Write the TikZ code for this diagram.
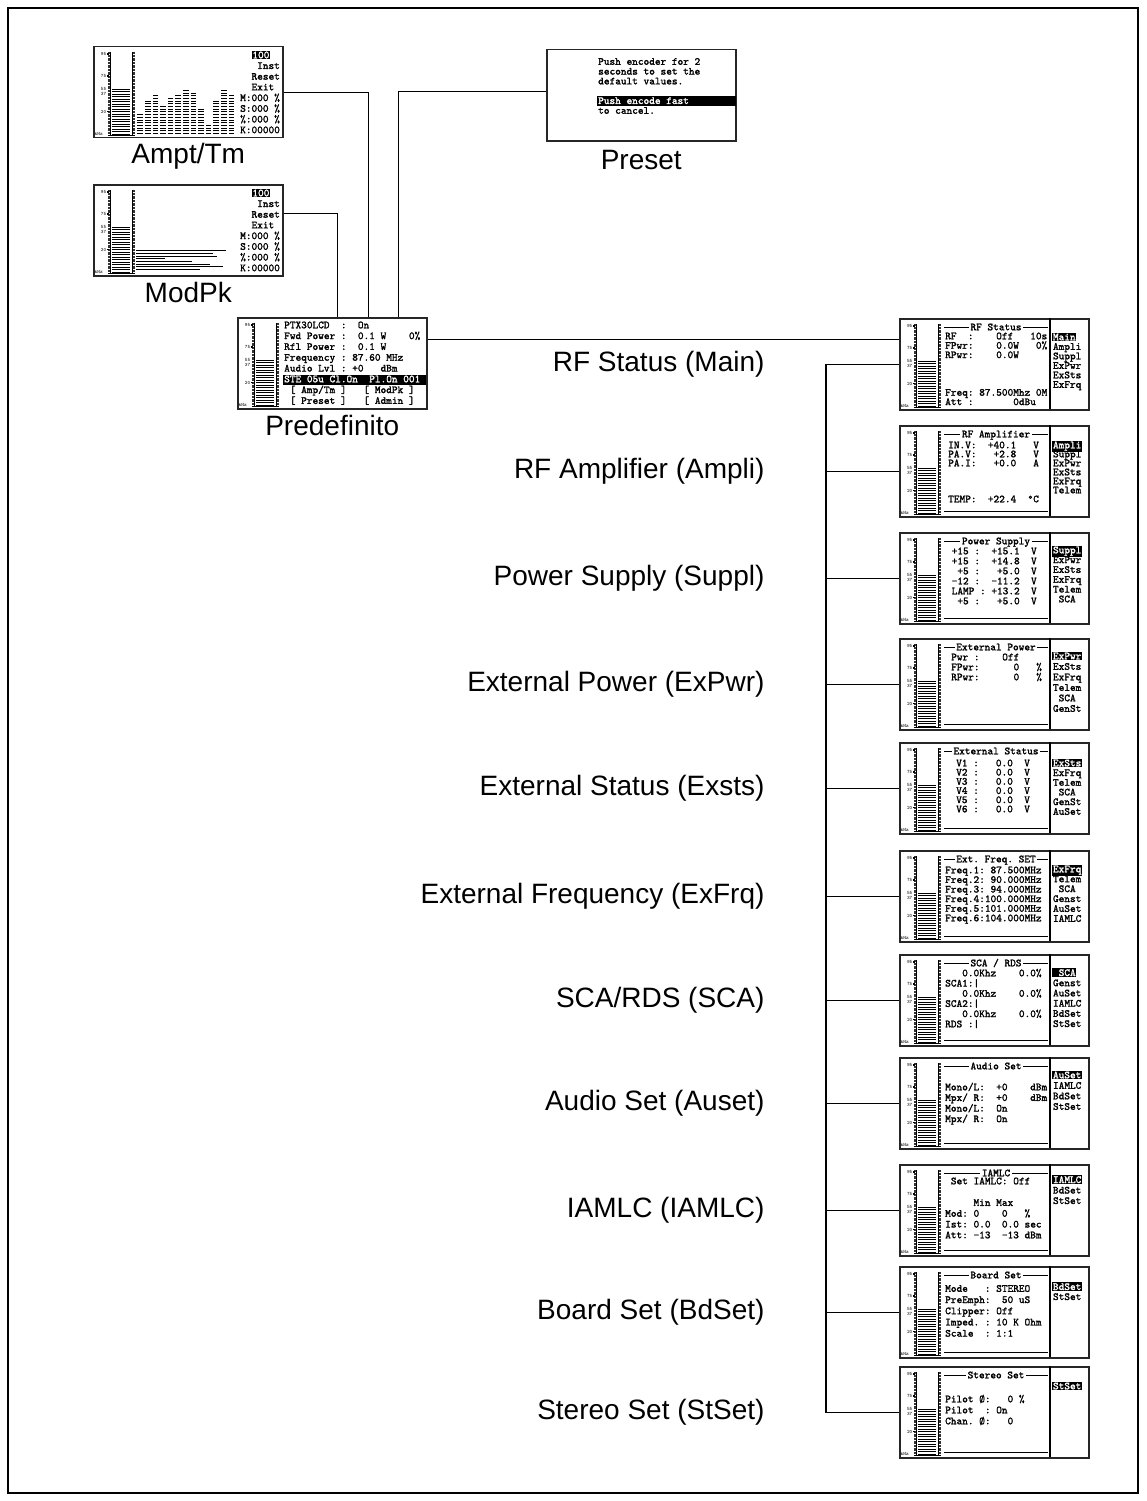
\documentclass[tikz,border=0pt]{standalone}
\usepackage{fontspec}
\setmainfont{Liberation Sans}
\newfontfamily\scrtt{lmmono10-regular}[Extension=.otf,FakeBold=1.6]
\usetikzlibrary{positioning,calc}

\newcommand\scrfont{\scrtt\fontsize{10.8}{10.8}\selectfont}
\newcommand\scalefont{\ttfamily\fontsize{5}{5}\selectfont}

\tikzset{
  screen/.style={draw=black!85,line width=1.5pt,minimum width=189pt,minimum height=91pt,
    inner sep=0pt,anchor=north west},
  row/.style={font=\scrfont,anchor=base west,inner sep=0pt},
  hl/.style={fill=black,text=white,inner sep=0.8pt},
  caption/.style={font=\fontsize{28}{30}\selectfont,anchor=base},
  lbl/.style={font=\fontsize{28}{30}\selectfont,anchor=east},
  wire/.style={line width=1.2pt},
  ruler/.style={line width=2.4pt,dash pattern=on 0.6pt off 0.8pt,black!80}
}

% level meter on the left of every screen
\newcommand\bargraph{%
  \foreach \v/\yy in {95/8,75/30,55/42.5,37/47.5,20/65.5}
    \node[font=\scalefont,anchor=east,inner sep=0pt] at (13.5,\yy) {\v};
  \node[font=\scalefont,anchor=west,inner sep=0pt] at (1.5,88) {kHz};
  \draw[ruler] (16,6) -- (16,89);
  \draw[ruler] (40.5,6) -- (40.5,89);
  \draw[line width=0.5pt] (17.4,6) -- (17.4,89);
  \draw[line width=0.5pt] (39.1,6) -- (39.1,89);
  \foreach \yy in {8,30,65.5} \fill (14.4,\yy-0.8) rectangle (16.4,\yy+0.8);
  \draw[line width=18pt,dash pattern=on 0.9pt off 1.6pt] (28.3,88.5) -- (28.3,42);
  \draw[line width=0.8pt] (15,89) -- (41.5,89);
}
\newcommand\scrrows[4]{%
  \foreach \rowtext [count=\k from 0] in {#4}
    \node[row] at (#1,{#2+#3*\k}) {\rowtext};}
\newcommand\scrtitle[1]{%
  \draw[line width=0.8pt] (45,9) -- (149,9);
  \node[font=\scrfont,fill=white,inner xsep=1.5pt,inner ysep=0pt,anchor=base] at (97,12.3) {#1};}
\newcommand\scrbottom{\draw[line width=0.8pt] (45,86) -- (149,86);}
\newcommand\scrsep{\draw[line width=1.8pt] (151,0) -- (151,91);}
\newcommand\scrmenu[4]{%
  \node[row,hl] at (153,#3) {#1};
  \foreach \rowtext [count=\k] in {#2}
    \node[row] at (153.8,{#3+#4*\k}) {\rowtext};}

\begin{document}
\begin{tikzpicture}[x=1pt,y=-1pt]
\useasboundingbox (0,0) rectangle (1146,1501);
\draw[line width=1.6pt] (8,8) rectangle (1138,1493);

% upper screens
\node[screen] (ampt) at (93,46) {};
\node[screen] (modpk) at (93,184) {};
\node[screen] (preset) at (546,49) {};
\node[screen] (predef) at (237,317) {};
\node[caption] at ([yshift=-25pt]ampt.south) {Ampt/Tm};
\node[caption] at ([yshift=-26pt]modpk.south) {ModPk};
\node[caption] at ([yshift=-28pt]preset.south) {Preset};
\node[caption] at ([yshift=-26pt]predef.south) {Predefinito};

% menu screens
\foreach \n/\yy in {rfs/318,rfa/425,sup/532,expwr/638,exsts/742,exfrq/850,
    sca/954,auset/1057,iamlc/1164,bdset/1266,stset/1366}
  \node[screen] (\n) at (899,\yy) {};
\foreach \n/\txt in {rfs/RF Status (Main),rfa/RF Amplifier (Ampli),sup/Power Supply (Suppl),
    expwr/External Power (ExPwr),exsts/External Status (Exsts),exfrq/External Frequency (ExFrq),
    sca/{SCA/RDS (SCA)},auset/Audio Set (Auset),iamlc/IAMLC (IAMLC),bdset/Board Set (BdSet),
    stset/Stereo Set (StSet)}
  \node[lbl] at ([xshift=-131pt]\n.west) {\txt};

% connectors
\draw[wire] (ampt.east) -| ([xshift=36pt]predef.north);
\draw[wire] ([yshift=16.5pt]modpk.east) -| ([xshift=5.5pt]predef.north);
\draw[wire] ([yshift=3.5pt]preset.west) -| ([xshift=66.5pt]predef.north);
\draw[wire] ([yshift=23.5pt]predef.east) -- ([yshift=23.5pt]predef.east -| rfs.west);
\coordinate (bus) at (826,0);
\draw[wire] (rfs.west) -| (bus |- stset.west) -- (stset.west);
\foreach \n in {rfa,sup,expwr,exsts,exfrq,sca,auset,iamlc,bdset}
  \draw[wire] (bus |- \n.west) -- (\n.west);

% Ampt/Tm
\begin{scope}[shift={(ampt.north west)}]
  \bargraph
  \foreach \h [count=\k from 0] in {68,54.7,49,60,51.3,49,44,46.7,63.3,79,54.7,44,49}
    \draw[line width=5.7pt,dash pattern=on 0.9pt off 1.8pt] ({47.2+7.6*\k},88) -- ({47.2+7.6*\k},\h);
  \node[row,hl] at (158.4,12.3) {100};
  \scrrows{147}{12.3}{10.7}{{},{~~~Inst},{~~Reset},{~~Exit},{M:000~\%},{S:000~\%},{\%:000~\%},{K:00000}}
\end{scope}

% ModPk
\begin{scope}[shift={(modpk.north west)}]
  \bargraph
  \foreach \len [count=\k from 0] in {133,119.7,123.7,72,98.7,117,130.3,107}
    \draw[line width=0.9pt] (43,{66.7+2.65*\k}) -- (\len,{66.7+2.65*\k});
  \node[row,hl] at (158.4,12.3) {100};
  \scrrows{147}{12.3}{10.7}{{},{~~~Inst},{~~Reset},{~~Exit},{M:000~\%},{S:000~\%},{\%:000~\%},{K:00000}}
\end{scope}

% Preset
\begin{scope}[shift={(preset.north west)}]
  \scrrows{52}{15.8}{9.8}{{Push~encoder~for~2},{seconds~to~set~the},{default~values.},{},{},{to~cancel.}}
  \fill (51,47) rectangle (189.5,57.5);
  \node[row,text=white] at (52,55) {Push~encode~fast};
\end{scope}

% Predefinito
\begin{scope}[shift={(predef.north west)}]
  \bargraph
  \scrrows{47}{11.3}{10.8}{{PTX30LCD~~:~~On},{Fwd~Power~:~~0.1~W~~~~0\%},{Rfl~Power~:~~0.1~W},
    {Frequency~:~87.60~MHz},{Audio~Lvl~:~+0~~~dBm},{},{~[~Amp/Tm~]~~~[~ModPk~]},{~[~Preset~]~~~[~Admin~]}}
  \fill (45.5,57.5) rectangle (189.2,67.8);
  \node[row,text=white] at (47,65.3) {STE~05u~Cl.On~~Pl.On~001};
\end{scope}

% RF Status
\begin{scope}[shift={(rfs.north west)}]
  \bargraph \scrsep \scrtitle{RF Status}
  \scrrows{46}{21.3}{9.4}{{RF~~:~~~~Off~~~10s},{FPwr:~~~~0.0W~~~0\%},{RPwr:~~~~0.0W},{},{},{},
    {Freq:~87.500Mhz~0M},{Att~:~~~~~~~0dBu}}
  \scrmenu{Main}{Ampli,Suppl,ExPwr,ExSts,ExFrq}{22.3}{9.5}
\end{scope}

% RF Amplifier
\begin{scope}[shift={(rfa.north west)}]
  \bargraph \scrsep \scrtitle{RF Amplifier} \scrbottom
  \scrrows{49}{23.3}{9}{{IN.V:~~+40.1~~~V},{PA.V:~~~+2.8~~~V},{PA.I:~~~+0.0~~~A},{},{},{},{TEMP:~~+22.4~~°C}}
  \scrmenu{Ampli}{Suppl,ExPwr,ExSts,ExFrq,Telem}{23.3}{9}
\end{scope}

% Power Supply
\begin{scope}[shift={(sup.north west)}]
  \bargraph \scrsep \scrtitle{Power Supply} \scrbottom
  \scrrows{52.5}{22.3}{10}{{+15~:~~+15.1~~V},{+15~:~~+14.8~~V},{~+5~:~~~+5.0~~V},{-12~:~~-11.2~~V},
    {LAMP~:~+13.2~~V},{~+5~:~~~+5.0~~V}}
  \scrmenu{Suppl}{ExPwr,ExSts,ExFrq,Telem,~SCA}{21.3}{9.8}
\end{scope}

% External Power
\begin{scope}[shift={(expwr.north west)}]
  \bargraph \scrsep \scrtitle{External Power} \scrbottom
  \scrrows{52}{22.3}{10}{{Pwr~:~~~~Off},{FPwr:~~~~~~0~~~\%},{RPwr:~~~~~~0~~~\%}}
  \scrmenu{ExPwr}{ExSts,ExFrq,Telem,~SCA,GenSt}{21.3}{10.5}
\end{scope}

% External Status
\begin{scope}[shift={(exsts.north west)}]
  \bargraph \scrsep \scrtitle{External Status} \scrbottom
  \scrrows{57}{24.3}{9.2}{{V1~:~~~0.0~~V},{V2~:~~~0.0~~V},{V3~:~~~0.0~~V},{V4~:~~~0.0~~V},
    {V5~:~~~0.0~~V},{V6~:~~~0.0~~V}}
  \scrmenu{ExSts}{ExFrq,Telem,~SCA,GenSt,AuSet}{24.3}{9.7}
\end{scope}

% External Frequency
\begin{scope}[shift={(exfrq.north west)}]
  \bargraph \scrsep \scrtitle{Ext.~Freq.~SET} \scrbottom
  \scrrows{46}{23.3}{9.6}{{Freq.1:~87.500MHz},{Freq.2:~90.000MHz},{Freq.3:~94.000MHz},
    {Freq.4:100.000MHz},{Freq.5:101.000MHz},{Freq.6:104.000MHz}}
  \scrmenu{ExFrq}{Telem,~SCA,Genst,AuSet,IAMLC}{22.3}{9.9}
\end{scope}

% SCA / RDS
\begin{scope}[shift={(sca.north west)}]
  \bargraph \scrsep \scrtitle{SCA~/~RDS} \scrbottom
  \scrrows{46}{22.3}{10.2}{{~~~0.0Khz~~~~0.0\%},{SCA1:|},{~~~0.0Khz~~~~0.0\%},{SCA2:|},
    {~~~0.0Khz~~~~0.0\%},{RDS~:|}}
  \scrmenu{~SCA~}{Genst,AuSet,IAMLC,BdSet,StSet}{22}{10.2}
\end{scope}

% Audio Set
\begin{scope}[shift={(auset.north west)}]
  \bargraph \scrsep \scrtitle{Audio Set} \scrbottom
  \scrrows{46}{33.3}{10.6}{{Mono/L:~~+0~~~~dBm},{Mpx/~R:~~+0~~~~dBm},{Mono/L:~~On},{Mpx/~R:~~On}}
  \scrmenu{AuSet}{IAMLC,BdSet,StSet}{21.3}{10.5}
\end{scope}

% IAMLC
\begin{scope}[shift={(iamlc.north west)}]
  \bargraph \scrsep \scrtitle{IAMLC} \scrbottom
  \scrrows{46}{20.3}{10.8}{{~Set~IAMLC:~Off},{},{~~~~~Min~Max},{Mod:~0~~~~0~~~\%},
    {Ist:~0.0~~0.0~sec},{Att:~-13~~-13~dBm}}
  \scrmenu{IAMLC}{BdSet,StSet}{19}{10.5}
\end{scope}

% Board Set
\begin{scope}[shift={(bdset.north west)}]
  \bargraph \scrsep \scrtitle{Board Set} \scrbottom
  \scrrows{46}{25.8}{11.2}{{Mode~~~:~STEREO},{PreEmph:~~50~uS},{Clipper:~Off},{Imped.~:~10~K~Ohm},
    {Scale~~:~1:1}}
  \scrmenu{BdSet}{StSet}{24}{10}
\end{scope}

% Stereo Set
\begin{scope}[shift={(stset.north west)}]
  \bargraph \scrsep \scrtitle{Stereo Set} \scrbottom
  \scrrows{46}{36.3}{11}{{Pilot~Ø:~~~0~\%},{Pilot~~:~On},{Chan.~Ø:~~~0}}
  \scrmenu{StSet}{{}}{23.3}{10}
\end{scope}
\end{tikzpicture}
\end{document}
